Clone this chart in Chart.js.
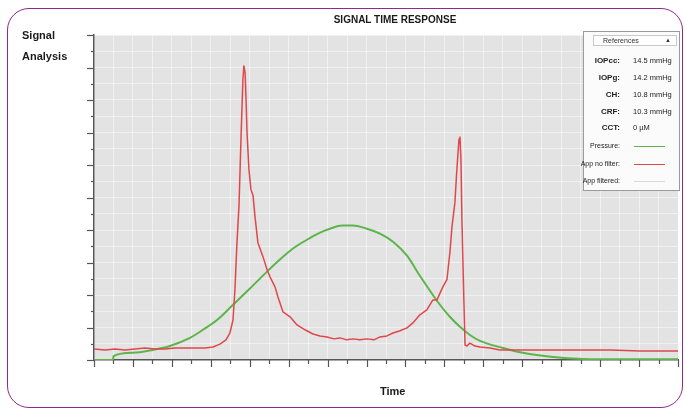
<!DOCTYPE html>
<html>
<head>
<meta charset="utf-8">
<script src="https://cdn.jsdelivr.net/npm/chart.js@4/dist/chart.umd.min.js"></script>
<style>
  html,body{margin:0;padding:0;background:#fff;}
  #wrap{position:relative;width:685px;height:410px;overflow:hidden;font-family:"Liberation Sans",Arial,sans-serif;}
  #frame{position:absolute;left:7px;top:8px;width:676px;height:400px;border:1.5px solid #8b2b8b;border-radius:22px;box-sizing:border-box;}
  canvas{position:absolute;left:0;top:0;}
  .t{position:absolute;white-space:nowrap;color:#1a1a1a;font-weight:bold;}
  #legend{position:absolute;left:583px;top:31px;width:97px;height:160px;box-sizing:border-box;border:1px solid #9a9a9a;background:#fbfbfb;font-size:7.5px;color:#222;}
  #lhead{position:absolute;left:9px;top:3px;width:84px;height:11px;box-sizing:border-box;border:1px solid #c8c8c8;background:#fff;font-size:7px;line-height:9px;color:#333;}
  #lhead span.l{position:absolute;left:9px;top:0;}
  #lhead span.a{position:absolute;right:5px;top:0;font-size:6px;}
  .row{position:absolute;left:0;width:97px;height:10px;line-height:10px;white-space:nowrap;}
  .row .k{position:absolute;right:61px;text-align:right;white-space:nowrap;}
  .row .k.b{font-weight:bold;font-size:8px;}
  .row .v{position:absolute;left:49px;white-space:nowrap;}
  .row .ln{position:absolute;left:50px;top:5px;width:31px;height:0;border-top:1.5px solid;}
</style>
</head>
<body>
<div id="wrap">
  <canvas id="c" width="685" height="410"></canvas>
  <div id="frame"></div>
  <div class="t" style="left:395px;top:14px;transform:translateX(-50%);font-size:10px;">SIGNAL TIME RESPONSE</div>
  <div class="t" style="left:22px;top:29px;font-size:11px;">Signal</div>
  <div class="t" style="left:22px;top:50px;font-size:11px;">Analysis</div>
  <div class="t" style="left:380px;top:385px;font-size:11px;">Time</div>
  <div id="legend"></div>
</div>
<script>
// ---- data (x: time units 0..300, y: signal units 0..100) ----
const redTime = [0,5.6,10.8,15.9,21.1,26.2,31.3,36.5,41.6,46.7,51.9,57.0,61.1,64.7,67.8,69.8,71.4,72.4,73.4,74.5,75.5,76.5,77.0,77.6,78.1,78.6,79.6,80.6,81.7,82.7,84.2,86.8,88.9,90.4,93.0,94.5,97.1,100.7,104.3,108.4,112.5,116.1,119.7,123.3,126.3,129.9,133.0,136.6,140.2,143.8,146.9,150.5,153.6,157.2,160.8,163.8,167.4,171.0,174.1,176.2,179.2,181.3,182.8,183.9,185.4,186.4,187.5,188.0,188.5,189.0,190.0,190.6,191.6,193.1,195.7,198.3,203.4,208.5,218.8,234.2,249.6,265.0,280.4,300];
const redValues = [3.4,3.1,3.4,3.1,3.4,3.7,3.4,3.4,3.7,3.7,3.7,3.7,4.0,4.9,6.2,8.3,12.3,21.6,35.5,47.8,67.9,86.4,90.5,88.5,80.2,70.1,58.6,52.5,50.6,44.1,36.1,31.8,27.8,25.6,22.5,19.4,14.8,13.3,10.8,9.3,8.0,7.4,7.1,6.5,6.8,6.2,6.5,6.2,6.5,6.2,7.1,7.4,8.3,9.0,9.9,11.4,13.9,15.4,18.5,18.5,22.5,24.7,33.0,41.0,48.5,58.6,68.0,68.6,61.7,43.2,18.5,4.6,4.3,5.2,4.3,4.0,3.7,3.1,3.1,3.1,3.1,3.1,2.8,2.8];
const greenTime = [0,9.8,10.0,20.0,30.3,39.0,49.3,56.0,63.2,71.4,80.1,88.9,95.5,102.2,109.4,116.1,121.2,127.4,133.0,140.2,146.9,153.6,160.8,167.4,172.6,177.7,182.8,188.0,193.1,198.3,210.1,220.3,235.7,251.2,270.2,300];
const greenValues = [0,0,1.2,2.2,3.1,4.3,6.8,9.3,12.3,17.0,22.0,27.2,30.9,34.3,37.0,39.2,40.4,41.4,41.4,40.4,38.9,36.4,32.1,25.9,21.3,17.0,13.3,10.2,7.7,5.9,3.7,2.2,0.9,0.3,0.2,0.2];
const legendValues = [["IOPcc:","14.5 mmHg"],["IOPg:","14.2 mmHg"],["CH:","10.8 mmHg"],["CRF:","10.3 mmHg"],["CCT:","0 \u00b5M"]];
const legendSeries = [["Pressure:","#5cb54a"],["App no filter:","#e0474c"],["App filtered:","#d8d8d8"]];

// ---- legend (HTML text) ----
const lg = document.getElementById('legend');
lg.innerHTML = '<div id="lhead"><span class="l">References</span><span class="a">\u25b2</span></div>';
const rowTops = [24,41,58,75,91,109,127,144];
legendValues.forEach((r,i)=>{
  const d=document.createElement('div');d.className='row';d.style.top=rowTops[i]+'px';
  d.innerHTML='<span class="k b">'+r[0]+'</span><span class="v">'+r[1]+'</span>';lg.appendChild(d);
});
legendSeries.forEach((r,i)=>{
  const d=document.createElement('div');d.className='row';d.style.top=rowTops[5+i]+'px';
  d.innerHTML='<span class="k" style="font-size:7px;">'+r[0]+'</span><span class="ln" style="border-color:'+r[1]+'"></span>';lg.appendChild(d);
});

const bgPlugin = {
  id:'bg',
  beforeDraw(chart){
    const {ctx, chartArea:a} = chart;
    ctx.save(); ctx.fillStyle='#e3e3e3'; ctx.fillRect(a.left,a.top,a.right-a.left,a.bottom-a.top); ctx.restore();
  },
  afterDraw(chart){
    const ctx=chart.ctx, xs=chart.scales.x, ys=chart.scales.y, a=chart.chartArea;
    ctx.save(); ctx.strokeStyle='#555'; ctx.lineWidth=1.2;
    ys.ticks.forEach(t=>{
      const y=Math.round(ys.getPixelForValue(t.value))+0.5;
      const len = (t.value%10===0)?7:3;
      ctx.beginPath(); ctx.moveTo(a.left-len,y); ctx.lineTo(a.left,y); ctx.stroke();
    });
    xs.ticks.forEach(t=>{
      const x=Math.round(xs.getPixelForValue(t.value))+0.5;
      const len = (t.value%20===0)?7:4;
      ctx.beginPath(); ctx.moveTo(x,a.bottom); ctx.lineTo(x,a.bottom+len); ctx.stroke();
    });
    ctx.restore();
  }
};

new Chart(document.getElementById('c'), {
  type:'line',
  data:{
    datasets:[
      {label:'App no filter', data: redTime.map((x,i)=>({x:x,y:redValues[i]})), borderColor:'#e0474c', borderWidth:1.5, borderJoinStyle:'round', pointRadius:0, tension:0, fill:false},
      {label:'Pressure', data: greenTime.map((x,i)=>({x:x,y:greenValues[i]})), borderColor:'#5cb54a', borderWidth:2, pointRadius:0, cubicInterpolationMode:'monotone', fill:false}
    ]
  },
  options:{
    responsive:false, animation:false,
    layout:{padding:{left:94,right:7,top:35,bottom:50}},
    plugins:{legend:{display:false},title:{display:false},tooltip:{enabled:false}},
    scales:{
      x:{type:'linear',min:0,max:300,
         ticks:{display:false,stepSize:10},
         grid:{color:'rgba(255,255,255,0.45)',lineWidth:1,drawTicks:false},
         border:{display:true,color:'#555',width:1.5}},
      y:{type:'linear',min:0,max:100,
         ticks:{display:false,stepSize:5},
         grid:{color:'rgba(255,255,255,0.45)',lineWidth:1,drawTicks:false},
         border:{display:true,color:'#555',width:1.5}}
    }
  },
  plugins:[bgPlugin]
});
</script>
</body>
</html>
